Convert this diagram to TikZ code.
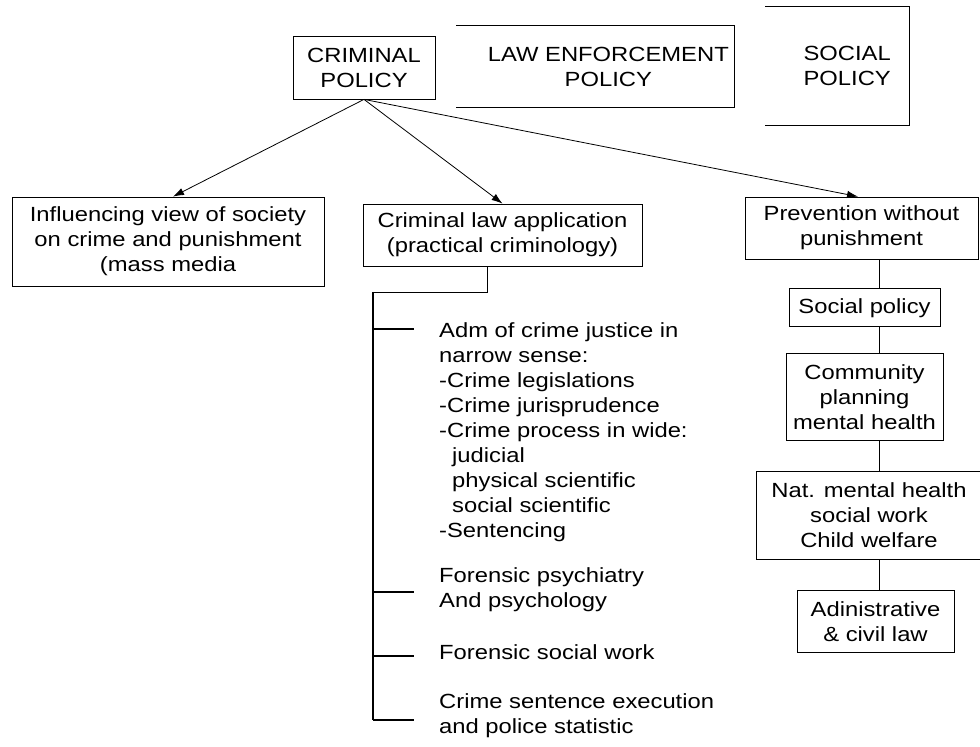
\documentclass[tikz,border=0pt]{standalone}
\usepackage{fontspec}
\setmainfont{Liberation Sans}[FakeStretch=1.16]
\usetikzlibrary{positioning,arrows.meta}

\begin{document}
\begin{tikzpicture}[
  x=1pt, y=1pt,
  font=\fontsize{20.5}{25}\selectfont,
  box/.style={draw=black, line width=0.8pt, align=center, inner sep=0pt},
  openbox/.style={align=center, inner ysep=0pt, anchor=east},
  itemtext/.style={align=left, anchor=west, inner sep=0pt},
  arr/.style={-{Latex[length=11pt,width=7.5pt]}, line width=0.8pt},
  link/.style={line width=0.8pt},
  brace/.style={line width=1.6pt}
]
\useasboundingbox (0,0) rectangle (980,747);
\node[box, minimum width=142pt, minimum height=63pt] (crim) at (364,679.5) {CRIMINAL\\POLICY};
\node[openbox, inner xsep=5pt, minimum height=81pt] (law) at (734,680.5) {LAW ENFORCEMENT\\POLICY};
\node[openbox, inner xsep=18pt, minimum height=118pt] (social) at (909,681) {SOCIAL\\POLICY};
\draw[link] (law.north east) ++(-278pt,0) -- (law.north east) -- (law.south east) -- ++(-278pt,0);
\draw[link] (social.north east) ++(-144pt,0) -- (social.north east) -- (social.south east) -- ++(-144pt,0);

\node[box, minimum width=312pt, minimum height=89pt] (view) at (168,505.5) {Influencing view of society\\on crime and punishment\\(mass media};
\node[box, minimum width=279pt, minimum height=62pt] (claw) at (502.5,512) {Criminal law application\\(practical criminology)};
\node[box, minimum width=233pt, minimum height=62pt] (prev) at (861.5,519) {Prevention without\\punishment};
\node[box, minimum width=151pt, minimum height=38pt, below=29pt of prev, xshift=3pt] (socpol) {Social policy};
\node[box, minimum width=157pt, minimum height=87pt, below=26pt of socpol] (comm) {Community\\planning\\mental health};
\node[box, minimum width=226pt, minimum height=88pt, below=30pt of comm, xshift=4.5pt] (natmh) {Nat. mental health\\social work\\Child welfare};
\node[box, minimum width=157pt, minimum height=62pt, below=30pt of natmh, xshift=6.5pt] (adm) {Adinistrative\\\& civil law};

\draw[arr] (crim.south) -- ([xshift=5pt]view.north);
\draw[arr] (crim.south) -- (claw.north);
\draw[arr] (crim.south) -- ([xshift=-3.5pt]prev.north);

\coordinate (spine) at (879,0);
\foreach \a/\b in {prev/socpol, socpol/comm, comm/natmh, natmh/adm}
  \draw[link] (\a.south -| spine) -- (\b.north -| spine);

\coordinate (brktop) at (373,455);
\coordinate (brkbot) at (373,27);
\draw[link] ([xshift=-15.5pt]claw.south) |- (brktop);
\draw[brace] (brktop) -- (brkbot);

\node[itemtext] (admj) at (439,315) {Adm of crime justice in\\narrow sense:\\-Crime legislations\\-Crime jurisprudence\\-Crime process in wide:\\\hspace*{13pt}judicial\\\hspace*{13pt}physical scientific\\\hspace*{13pt}social scientific\\-Sentencing};
\node[itemtext] (psy) at (439,157) {Forensic psychiatry\\And psychology};
\node[itemtext] (fsw) at (439,95) {Forensic social work};
\node[itemtext] (exec) at (439,31) {Crime sentence execution\\and police statistic};

\draw[brace] (brktop |- admj.north) ++(0,-7pt) -- ++(41pt,0);
\foreach \n/\d in {psy/-2pt, fsw/-4pt, exec/-4pt}
  \draw[brace] (brktop |- \n.west) ++(0,\d) -- ++(41pt,0);
\end{tikzpicture}
\end{document}
